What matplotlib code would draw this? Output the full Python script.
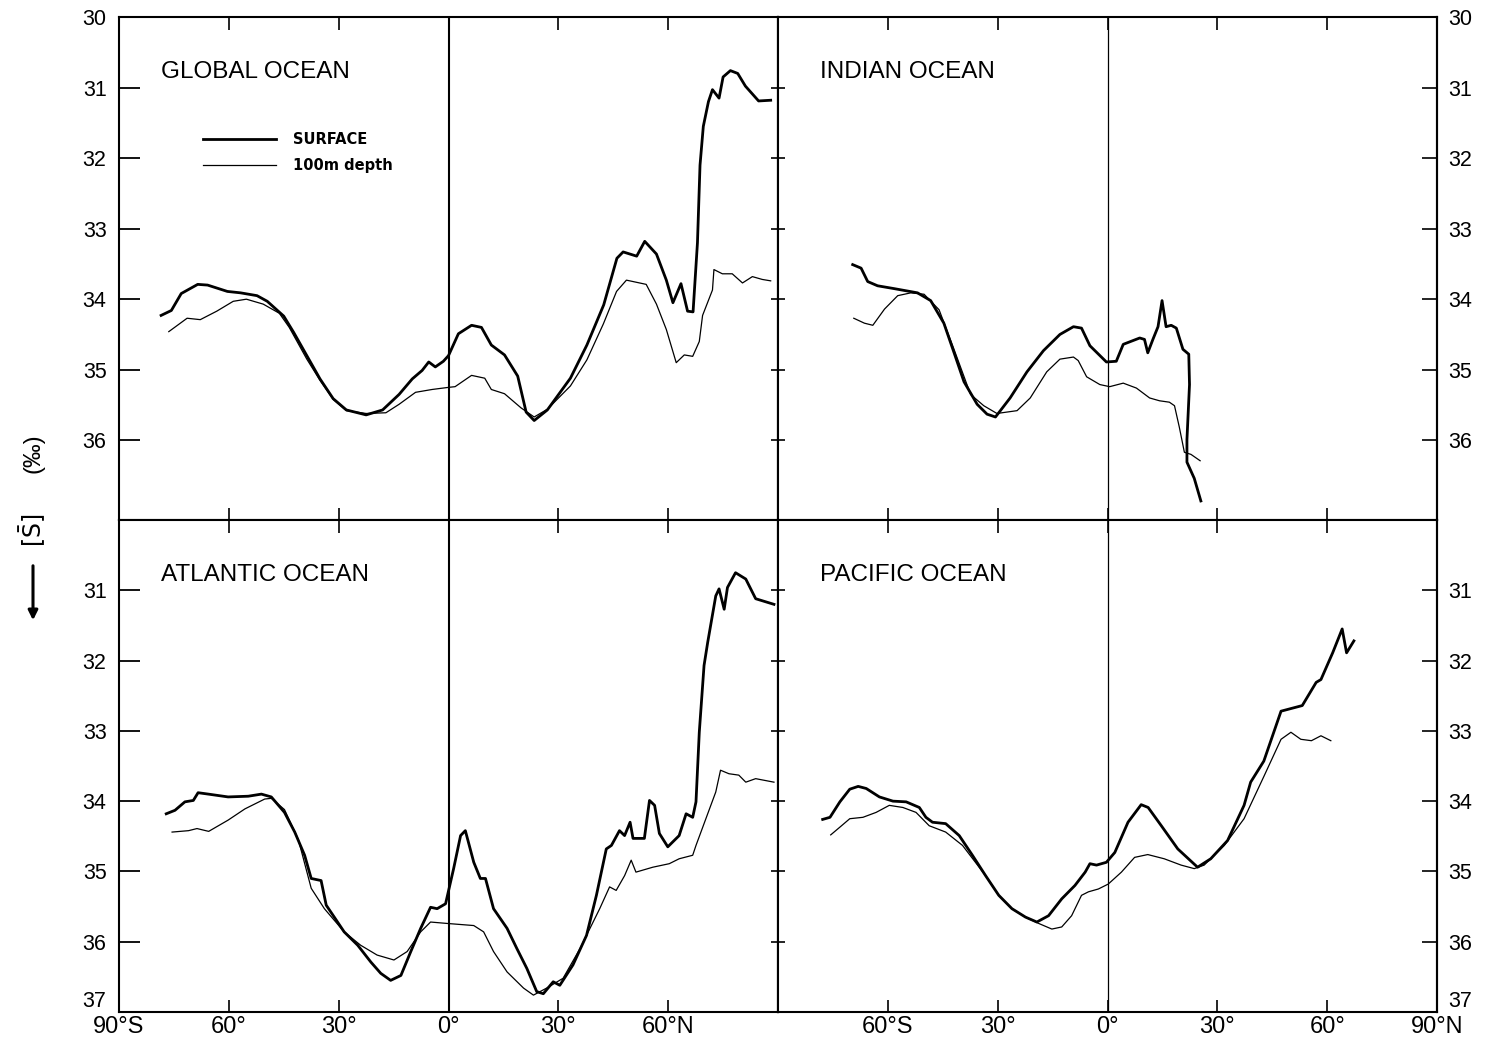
# Zonal mean salinity, surface vs 100 m, four ocean panels

import matplotlib
matplotlib.use("Agg")
import matplotlib.pyplot as plt
from matplotlib.patches import FancyArrowPatch

plt.rcParams["font.family"] = ["Liberation Sans", "DejaVu Sans"]

# ---- data (latitude in deg, negative = south; salinity in permil)
global_surf_lat = [-78.5, -75.7, -73.0, -68.5, -65.8, -60.4, -56.8, -52.3, -49.5, -45.0, -42.3, -38.7,
                   -35.1, -31.5, -27.9, -22.5, -18.0, -13.5, -9.9, -7.2, -5.4, -3.6, -1.4, 0.0, 2.7,
                   6.3, 9.0, 11.7, 15.3, 18.9, 21.2, 23.4, 27.0, 33.3, 37.8, 42.4, 46.0, 47.7, 51.4,
                   53.6, 56.8, 59.5, 61.3, 63.5, 65.3, 66.8, 68.0, 68.7, 69.6, 71.0, 72.1, 73.9, 75.0,
                   77.0, 79.0, 81.1, 84.7, 88.0]
global_surf_sal = [34.23, 34.16, 33.92, 33.79, 33.80, 33.89, 33.91, 33.95, 34.03, 34.24, 34.47, 34.80,
                   35.13, 35.41, 35.57, 35.64, 35.57, 35.35, 35.13, 35.01, 34.89, 34.96, 34.88, 34.80,
                   34.49, 34.37, 34.40, 34.65, 34.79, 35.09, 35.60, 35.72, 35.57, 35.12, 34.65, 34.08,
                   33.42, 33.33, 33.39, 33.18, 33.36, 33.73, 34.05, 33.78, 34.17, 34.18, 33.20, 32.10,
                   31.55, 31.20, 31.03, 31.15, 30.85, 30.76, 30.80, 30.98, 31.19, 31.18]
global_100m_lat = [-76.4, -71.4, -67.8, -63.3, -58.8, -55.2, -50.6, -46.2, -43.5, -38.7, -35.1, -31.5,
                   -27.9, -22.5, -17.1, -13.5, -9.0, -4.5, 0.0, 1.8, 6.3, 9.9, 11.7, 15.3, 19.8, 23.4,
                   27.0, 33.3, 37.8, 42.3, 45.9, 48.6, 54.0, 56.8, 59.5, 62.2, 64.4, 66.7, 68.5, 69.4,
                   72.1, 72.5, 74.8, 77.5, 80.3, 83.0, 85.7, 88.0]
global_100m_sal = [34.46, 34.27, 34.29, 34.17, 34.03, 34.00, 34.07, 34.20, 34.40, 34.85, 35.15, 35.42,
                   35.58, 35.62, 35.61, 35.49, 35.32, 35.28, 35.25, 35.24, 35.08, 35.12, 35.28, 35.34,
                   35.54, 35.67, 35.56, 35.23, 34.86, 34.35, 33.89, 33.73, 33.79, 34.07, 34.43, 34.90,
                   34.79, 34.81, 34.60, 34.23, 33.87, 33.58, 33.64, 33.64, 33.77, 33.68, 33.72, 33.74]

indian_surf_lat = [-69.6, -67.3, -65.5, -62.8, -58.3, -51.9, -48.3, -44.7, -41.9, -39.2, -35.6, -32.9,
                   -30.6, -26.6, -22.0, -17.5, -13.0, -9.3, -7.1, -4.8, -0.3, 2.4, 4.3, 8.8, 10.1, 11.0,
                   12.4, 13.8, 14.9, 16.0, 17.4, 18.8, 20.6, 22.2, 22.4, 21.7, 21.7, 23.7, 25.5]
indian_surf_sal = [33.51, 33.56, 33.75, 33.81, 33.85, 33.91, 34.02, 34.34, 34.76, 35.17, 35.49, 35.63,
                   35.67, 35.40, 35.03, 34.73, 34.50, 34.39, 34.41, 34.66, 34.89, 34.88, 34.64, 34.55,
                   34.57, 34.76, 34.57, 34.39, 34.02, 34.39, 34.37, 34.41, 34.71, 34.78, 35.21, 35.99,
                   36.31, 36.54, 36.86]
indian_100m_lat = [-69.3, -66.4, -64.1, -60.9, -57.3, -53.7, -50.1, -46.0, -42.0, -37.4, -33.8, -30.2,
                   -24.7, -21.1, -16.6, -13.0, -9.3, -8.0, -5.7, -2.1, 0.6, 4.3, 7.9, 11.5, 14.2, 16.9,
                   18.3, 19.6, 21.0, 22.8, 25.3]
indian_100m_sal = [34.27, 34.34, 34.37, 34.14, 33.95, 33.91, 33.93, 34.15, 34.70, 35.35, 35.51, 35.62,
                   35.58, 35.40, 35.03, 34.85, 34.82, 34.87, 35.10, 35.21, 35.24, 35.19, 35.26, 35.40,
                   35.44, 35.46, 35.51, 35.81, 36.17, 36.20, 36.29]

atlantic_surf_lat = [-77.1, -74.7, -72.0, -69.7, -68.4, -65.6, -60.2, -54.7, -51.1, -48.4, -44.8, -42.0,
                     -39.3, -37.5, -34.8, -33.4, -31.2, -28.5, -24.8, -21.2, -18.5, -15.8, -13.0, -10.3,
                     -7.6, -4.9, -3.1, -0.8, 1.4, 3.3, 4.6, 6.9, 8.7, 10.1, 12.3, 16.0, 18.7, 21.4, 24.1,
                     25.9, 28.6, 30.4, 34.0, 37.7, 40.4, 43.1, 44.5, 46.7, 48.1, 49.6, 50.4, 53.5, 54.9,
                     56.3, 57.6, 59.9, 63.0, 64.9, 66.7, 67.6, 68.5, 69.8, 70.8, 73.0, 73.9, 75.3, 76.2,
                     78.4, 81.2, 83.9, 88.9]
atlantic_surf_sal = [34.18, 34.13, 34.01, 33.99, 33.88, 33.90, 33.94, 33.93, 33.90, 33.94, 34.16, 34.44,
                     34.77, 35.10, 35.13, 35.48, 35.65, 35.86, 36.05, 36.29, 36.45, 36.55, 36.48, 36.14,
                     35.81, 35.51, 35.53, 35.46, 34.96, 34.49, 34.42, 34.87, 35.10, 35.10, 35.53, 35.81,
                     36.10, 36.38, 36.71, 36.74, 36.57, 36.62, 36.33, 35.91, 35.34, 34.68, 34.63, 34.42,
                     34.49, 34.30, 34.53, 34.53, 33.99, 34.06, 34.46, 34.65, 34.49, 34.18, 34.23, 34.01,
                     33.02, 32.07, 31.74, 31.08, 30.98, 31.27, 30.96, 30.75, 30.84, 31.12, 31.20]
atlantic_100m_lat = [-75.5, -71.0, -68.7, -65.5, -60.2, -55.6, -50.2, -48.4, -44.8, -41.0, -37.5, -33.9,
                     -28.5, -24.0, -19.5, -14.9, -11.3, -7.6, -4.9, -0.4, 6.9, 9.6, 12.3, 16.0, 20.5,
                     23.2, 26.8, 31.3, 35.9, 41.3, 44.0, 45.8, 48.1, 49.9, 51.2, 55.8, 60.3, 63.0, 66.7,
                     67.6, 70.3, 73.0, 74.3, 76.6, 79.3, 81.2, 83.9, 88.9]
atlantic_100m_sal = [34.44, 34.42, 34.39, 34.43, 34.27, 34.11, 33.97, 33.96, 34.12, 34.55, 35.24, 35.53,
                     35.86, 36.05, 36.19, 36.26, 36.14, 35.86, 35.72, 35.74, 35.77, 35.86, 36.14, 36.43,
                     36.66, 36.76, 36.66, 36.52, 36.10, 35.53, 35.22, 35.27, 35.06, 34.84, 35.01, 34.94,
                     34.89, 34.82, 34.77, 34.63, 34.25, 33.87, 33.56, 33.61, 33.63, 33.73, 33.68, 33.73]

pacific_surf_lat = [-77.8, -75.8, -73.1, -70.4, -68.1, -65.9, -62.3, -58.6, -55.0, -51.4, -49.6, -47.8,
                    -44.2, -40.5, -36.9, -33.3, -29.7, -26.1, -22.4, -19.3, -16.1, -12.5, -8.9, -6.1,
                    -4.8, -3.0, -0.3, 2.0, 5.6, 9.2, 11.1, 14.7, 19.2, 24.6, 28.2, 32.8, 37.3, 39.1,
                    42.7, 47.4, 53.2, 57.0, 58.3, 61.5, 64.1, 65.3, 67.3]
pacific_surf_sal = [34.26, 34.23, 34.01, 33.83, 33.79, 33.82, 33.94, 34.00, 34.01, 34.09, 34.23, 34.30,
                    34.32, 34.49, 34.77, 35.06, 35.34, 35.53, 35.65, 35.72, 35.63, 35.39, 35.20, 35.01,
                    34.89, 34.91, 34.87, 34.73, 34.30, 34.05, 34.09, 34.35, 34.68, 34.94, 34.82, 34.56,
                    34.06, 33.73, 33.43, 32.72, 32.64, 32.31, 32.27, 31.89, 31.55, 31.89, 31.72]
pacific_100m_lat = [-75.6, -73.1, -70.4, -66.8, -63.2, -59.6, -55.9, -52.3, -48.7, -44.2, -39.6, -33.3,
                    -29.7, -26.1, -22.4, -18.8, -15.2, -12.5, -9.8, -7.1, -5.2, -2.5, 0.2, 3.8, 7.4,
                    11.0, 15.5, 20.1, 23.7, 26.4, 31.9, 37.3, 42.7, 47.4, 50.1, 52.8, 55.7, 58.3, 61.0]
pacific_100m_sal = [34.48, 34.37, 34.25, 34.23, 34.16, 34.06, 34.09, 34.16, 34.35, 34.44, 34.63, 35.06,
                    35.34, 35.53, 35.65, 35.74, 35.82, 35.79, 35.63, 35.34, 35.29, 35.25, 35.18, 35.01,
                    34.80, 34.76, 34.82, 34.91, 34.96, 34.91, 34.63, 34.25, 33.65, 33.12, 33.02, 33.12,
                    33.14, 33.07, 33.14]

lat_ticks = [-90, -60, -30, 0, 30, 60, 90]
left_lat_labels = ["90°S", "60°", "30°", "0°", "30°", "60°N", ""]
right_lat_labels = ["", "60°S", "30°", "0°", "30°", "60°", "90°N"]
top_sal_ticks = [30, 31, 32, 33, 34, 35, 36]
bottom_sal_ticks = [31, 32, 33, 34, 35, 36, 37]

W, H = 1486, 1056


def box(x0, y0, x1, y1):
    return [x0 / W, 1 - y1 / H, (x1 - x0) / W, (y1 - y0) / H]


fig = plt.figure(figsize=(W / 100, H / 100), dpi=100)

panels = [
    # rect, name, surf, 100m, left column?, bottom row?
    (box(119, 17, 778, 520), "GLOBAL OCEAN", (global_surf_lat, global_surf_sal),
     (global_100m_lat, global_100m_sal), True, False),
    (box(778, 17, 1437, 520), "INDIAN OCEAN", (indian_surf_lat, indian_surf_sal),
     (indian_100m_lat, indian_100m_sal), False, False),
    (box(119, 520, 778, 1012), "ATLANTIC OCEAN", (atlantic_surf_lat, atlantic_surf_sal),
     (atlantic_100m_lat, atlantic_100m_sal), True, True),
    (box(778, 520, 1437, 1012), "PACIFIC OCEAN", (pacific_surf_lat, pacific_surf_sal),
     (pacific_100m_lat, pacific_100m_sal), False, True),
]

axes = []
for rect, name, surf, deep, is_left, is_bottom in panels:
    ax = fig.add_axes(rect)
    axes.append(ax)
    ax.plot(surf[0], surf[1], color="black", lw=2.0, label="SURFACE")
    ax.plot(deep[0], deep[1], color="black", lw=0.9, label="100m depth")
    ax.axvline(0, color="black", lw=1.5 if is_left else 0.9)

    ax.set_xlim(-90, 90)
    ax.set_ylim((37, 30) if is_bottom else (37.13, 30))
    for s in ax.spines.values():
        s.set_linewidth(1.5)

    ax.set_xticks(lat_ticks)
    ax.tick_params(axis="x", direction="in", top=True, bottom=True, length=9, width=1.2,
                   labelsize=17, pad=3)
    if is_bottom:
        ax.set_xticklabels(left_lat_labels if is_left else right_lat_labels)
    else:
        ax.tick_params(axis="x", labelbottom=False)

    sal_ticks = bottom_sal_ticks if is_bottom else top_sal_ticks
    ax.set_yticks(sal_ticks)
    sec = ax.secondary_yaxis("right")
    sec.set_yticks(sal_ticks)
    sec.spines["right"].set_linewidth(1.5)
    if is_left:
        ax.tick_params(axis="y", direction="in", length=15, width=1.3, labelsize=15.5, pad=9)
        sec.tick_params(axis="y", direction="in", length=5, width=1.2, labelright=False)
        labels = ax.get_yticklabels()
    else:
        ax.tick_params(axis="y", direction="in", length=5, width=1.2, labelleft=False)
        sec.tick_params(axis="y", direction="in", length=11, width=1.2, labelsize=15.5, pad=8)
        labels = sec.get_yticklabels()
    if is_bottom:
        # the bottom "37" sits above the corner, clear of the latitude labels
        labels[-1].set_verticalalignment("bottom")

    ax.text(-78.6, 30.78, name, fontsize=17.5, ha="left", va="center")

axes[0].legend(loc="upper left", bbox_to_anchor=(0.127, 0.772), frameon=False,
               prop={"family": "DejaVu Sans", "weight": "bold", "size": 10.5},
               handlelength=5.0, handletextpad=1.2, labelspacing=0.8, borderpad=0,
               borderaxespad=0)

# axis label with downward arrow
fig.text(33 / W, 1 - 453 / H, "(‰)", rotation=90, fontsize=17, ha="center", va="center")
fig.text(33 / W, 1 - 530 / H, r"$[\bar{\mathrm{S}}]$", rotation=90, fontsize=17,
         ha="center", va="center")
fig.add_artist(FancyArrowPatch((33 / W, 1 - 563 / H), (33 / W, 1 - 623 / H),
                               transform=fig.transFigure, arrowstyle="-|>",
                               mutation_scale=14, lw=2.2, color="black"))

fig.savefig("out.png", dpi=100)
plt.close(fig)
